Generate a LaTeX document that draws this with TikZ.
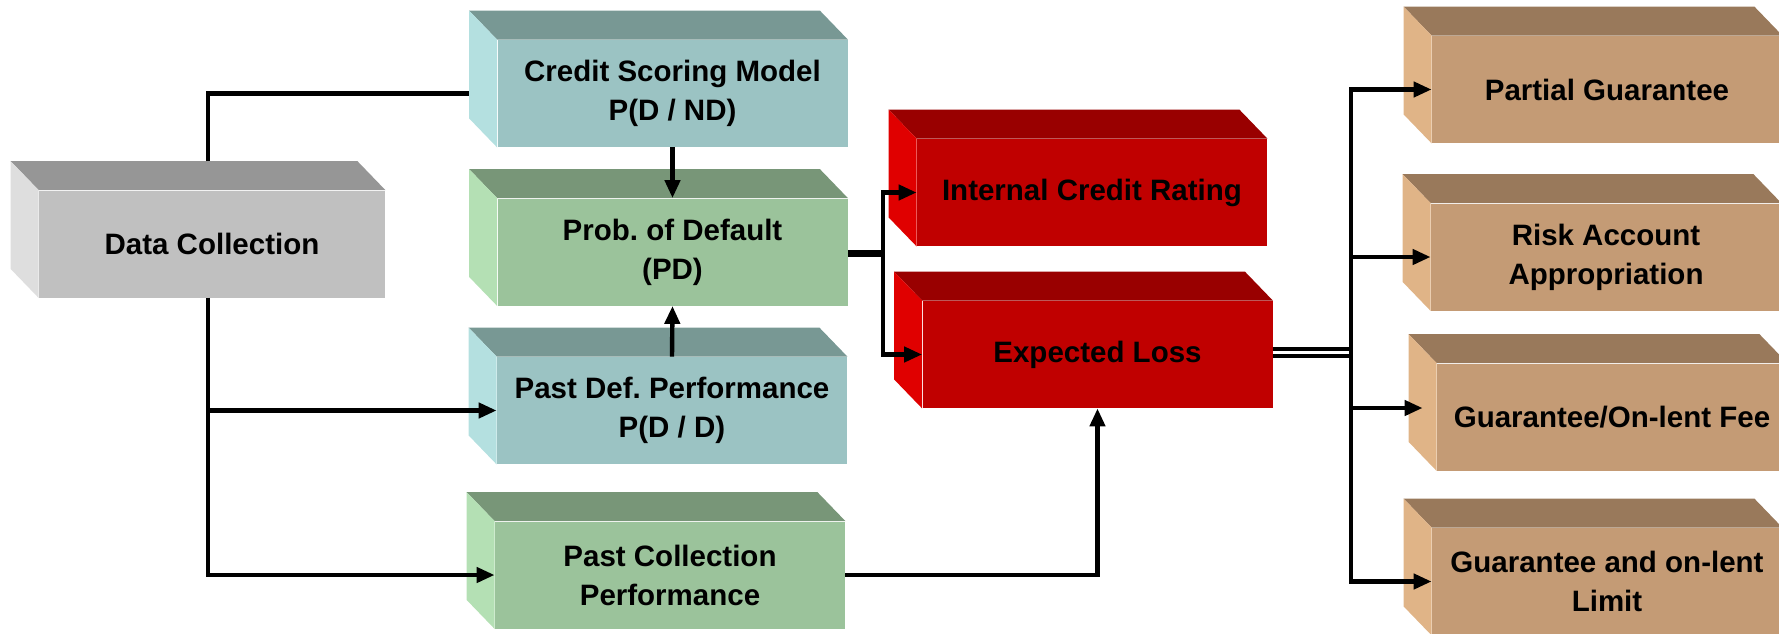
\documentclass[tikz,border=0pt]{standalone}
\usepackage{fontspec}
\setmainfont{Liberation Sans}
\usetikzlibrary{arrows.meta}
\frenchspacing

\definecolor{grayfront}{HTML}{C0C0C0}
\definecolor{graytop}{HTML}{969696}
\definecolor{grayleft}{HTML}{DEDEDE}
\definecolor{tealfront}{HTML}{9BC3C3}
\definecolor{tealtop}{HTML}{789894}
\definecolor{tealleft}{HTML}{B4E0E0}
\definecolor{greenfront}{HTML}{9BC39B}
\definecolor{greentop}{HTML}{789678}
\definecolor{greenleft}{HTML}{B4E0B4}
\definecolor{redfront}{HTML}{C00000}
\definecolor{redtop}{HTML}{990000}
\definecolor{redleft}{HTML}{E00000}
\definecolor{tanfront}{HTML}{C49B75}
\definecolor{tantop}{HTML}{99795B}
\definecolor{tanleft}{HTML}{E0B487}

\tikzset{
  block/.style={rectangle, inner sep=0pt, minimum width=175pt, minimum height=53.5pt,
    align=center, font=\fontsize{14.75}{19.5}\selectfont\bfseries},
  link/.style={line width=2.2pt, -{Triangle[length=9pt,width=7.5pt]}},
  wire/.style={line width=2.2pt},
  dblwire/.style={double, line width=2pt, double distance=1.25pt}
}

% top and left faces behind a block
\newcommand{\sides}[3]{%
  \fill[#2] (#1.north west) -- (#1.north east) -- ++(-28,-29)
    -- ([shift={(-28,-29)}]#1.north west) -- cycle;
  \fill[#3] (#1.north west) -- (#1.south west) -- ++(-28,-29)
    -- ([shift={(-28,-29)}]#1.north west) -- cycle;
}

\begin{document}
\begin{tikzpicture}[x=0.5pt,y=-0.5pt]
\clip (0,0) rectangle (1779,633);

% front faces
\node[block, fill=grayfront, minimum width=173pt] (dc) at (212,244) {Data Collection};
\node[block, fill=tealfront] (csm) at (672.5,93.5) {Credit Scoring Model\\P(D / ND)};
\node[block, fill=greenfront] (pd) at (672.5,252) {Prob. of Default\\(PD)};
\node[block, fill=tealfront] (pdp) at (672,410.5) {Past Def. Performance\\P(D / D)};
\node[block, fill=greenfront] (pcp) at (670,575) {Past Collection\\Performance};

\node[block, fill=redfront] (icr) at (1092,192.5) {Internal Credit Rating};
\node[block, fill=redfront] (el) at (1097.5,354.5) {Expected Loss};

\node[block, fill=tanfront] (pg) at (1607,89.5) {Partial Guarantee};
\node[block, fill=tanfront] (raa) at (1606,257) {Risk Account\\Appropriation};
\node[block, fill=tanfront] (gof) at (1612,417) {Guarantee/On-lent Fee};
\node[block, fill=tanfront] (gol) at (1607,581.5) {Guarantee and on-lent\\Limit};

% the boxes' depth
\sides{dc}{graytop}{grayleft}
\sides{csm}{tealtop}{tealleft}
\sides{pd}{greentop}{greenleft}
\sides{pdp}{tealtop}{tealleft}
\sides{pcp}{greentop}{greenleft}
\sides{icr}{redtop}{redleft}
\sides{el}{redtop}{redleft}
\sides{pg}{tantop}{tanleft}
\sides{raa}{tantop}{tanleft}
\sides{gof}{tantop}{tanleft}
\sides{gol}{tantop}{tanleft}

% left part
\draw[wire] ([shift={(-4,-29)}]dc.north) |- ([shift={(-28,0)}]csm.west);
\draw[link] ([xshift=-2pt]dc.south) |- (pdp.west);
\draw[link] ([xshift=-2pt]dc.south) |- (pcp.west);
\draw[link] (csm.south) -- (pd.north);
\draw[link] (pdp.north) -- (pd.south);

% middle
\draw[link] (pd.east) -- ++(35,0) |- (icr.west);
\draw[link] ([yshift=-1.5pt]pd.east) -- ++(35,0) |- (el.west);
\draw[link] (pcp.east) -| (el.south);

% right part
\draw[dblwire] ([yshift=1pt]el.east) -- ++(78,0) coordinate (hub);
\draw[link] (hub) |- (pg.west);
\draw[link] (hub) |- (raa.west);
\draw[link] (hub) |- ([shift={(-14,-9)}]gof.west);
\draw[link] (hub) |- (gol.west);

\end{tikzpicture}
\end{document}
